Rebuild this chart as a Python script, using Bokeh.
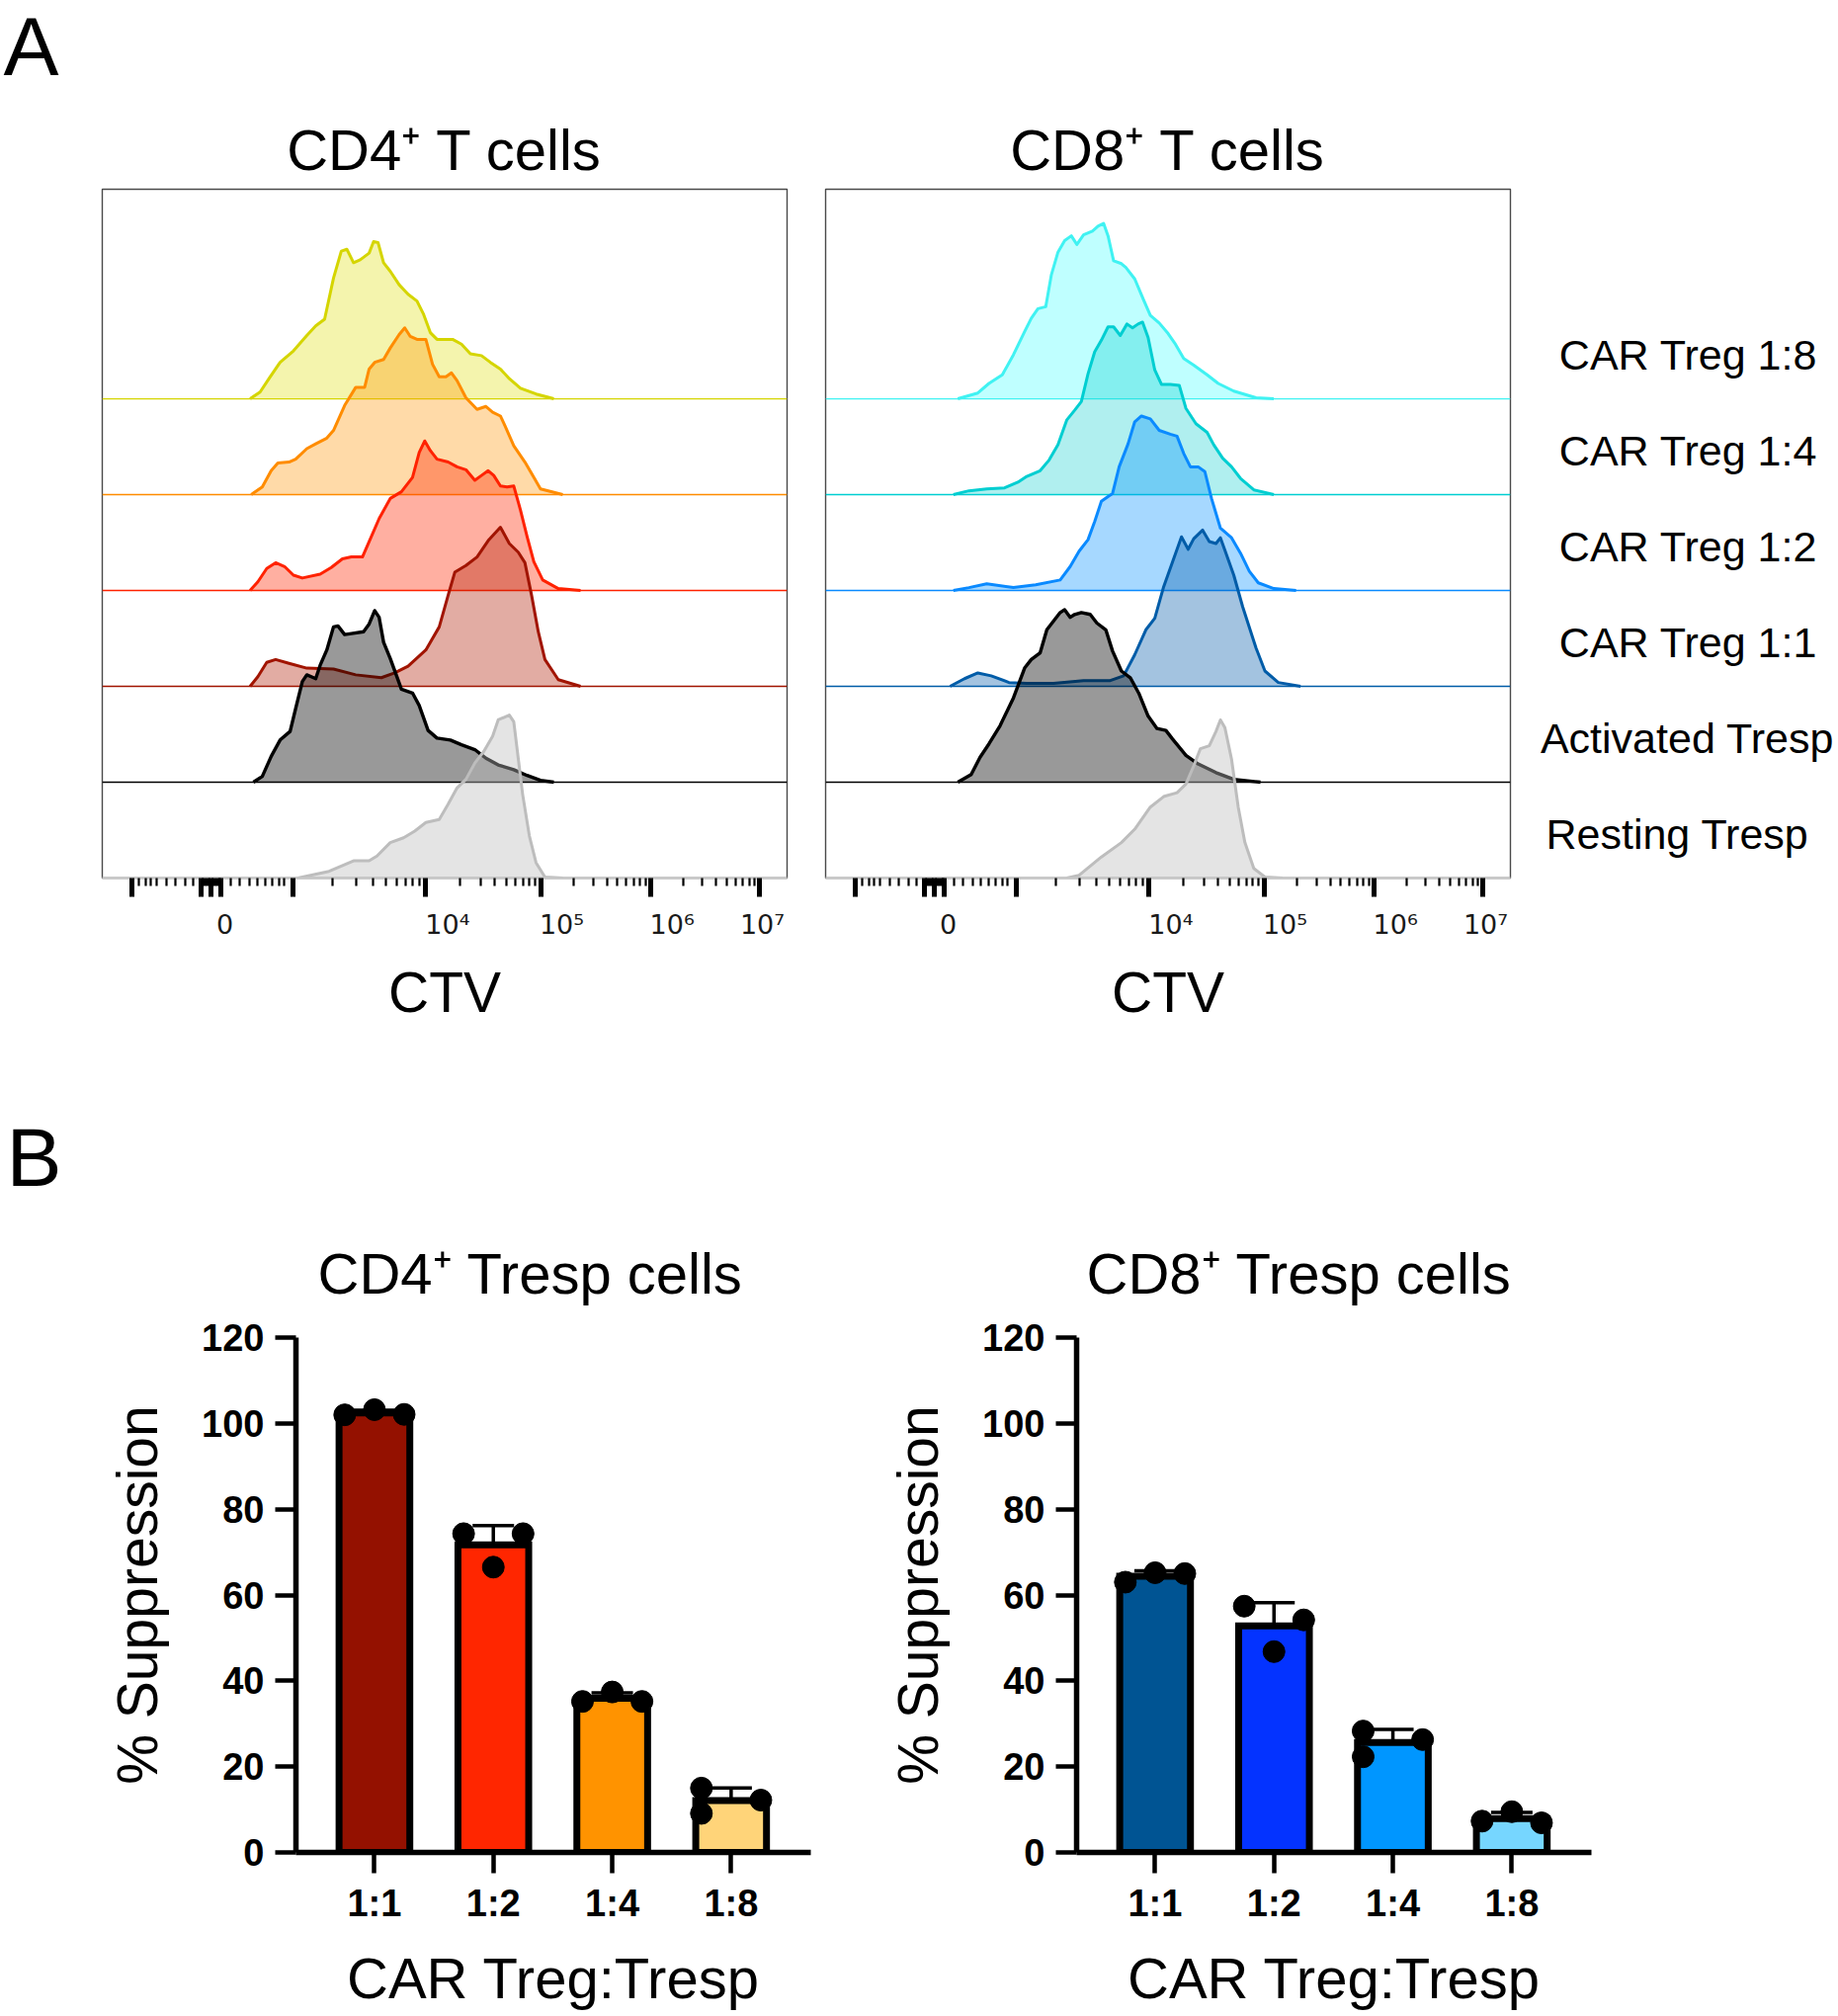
import numpy as np
from bokeh.plotting import figure
from bokeh.models import (Range1d, FixedTicker, LinearAxis,
                          ColumnDataSource, Whisker, TeeHead)
from bokeh.layouts import column, row
from bokeh.embed import file_html
from bokeh.resources import INLINE
from bokeh.core.properties import value

# ======================= DATA =======================
row_labels = ["Resting Tresp", "Activated Tresp", "CAR Treg 1:1",
              "CAR Treg 1:2", "CAR Treg 1:4", "CAR Treg 1:8"]

# CTV axis: positions (display units of the biexponential scale)
ctv_major_pos = [1.358, 2.068, 2.806, 4.0, 5.032, 6.018, 7.0]     # -10^3, 0, 10^3, 10^4 .. 10^7
ctv_zero_major = [1.98, 2.157]
ctv_zero_minor = [1.995, 2.01, 2.025, 2.04, 2.055, 2.085, 2.10, 2.115, 2.13, 2.145]
ctv_neg_minor = [1.42, 1.482, 1.527, 1.58, 1.669, 1.749, 1.838, 1.909]
ctv_lin_minor = [2.246, 2.326, 2.415, 2.486, 2.557, 2.619, 2.681, 2.726]
ctv_tick_labels = ["0", "10⁴", "10⁵", "10⁶", "10⁷"]
ctv_label_pos = [2.193, 4.195, 5.221, 6.213, 7.024]

# --- CD4+ T cells histograms (x: CTV display units, h: height in row units)
cd4_18_x = [2.42, 2.51, 2.59, 2.69, 2.81, 2.93, 3.01, 3.09, 3.17, 3.24, 3.29, 3.35, 3.41, 3.49, 3.53, 3.57, 3.62,
            3.68, 3.76, 3.84, 3.92, 3.98, 4.04, 4.10, 4.24, 4.32, 4.40, 4.50, 4.58, 4.67, 4.75, 4.85, 4.99, 5.15]
cd4_18_h = [0, 0.07, 0.21, 0.38, 0.50, 0.66, 0.76, 0.83, 1.26, 1.54, 1.56, 1.42, 1.45, 1.52, 1.64, 1.63, 1.42,
            1.33, 1.19, 1.09, 1.02, 0.88, 0.69, 0.62, 0.62, 0.57, 0.47, 0.45, 0.38, 0.31, 0.21, 0.11, 0.05, 0]
cd4_14_x = [2.43, 2.53, 2.61, 2.67, 2.77, 2.83, 2.93, 3.01, 3.11, 3.17, 3.27, 3.37, 3.45, 3.49, 3.54, 3.62, 3.68,
            3.76, 3.81, 3.86, 3.92, 4.00, 4.06, 4.12, 4.18, 4.23, 4.28, 4.36, 4.46, 4.54, 4.60, 4.67, 4.71, 4.79,
            4.89, 4.97, 5.03, 5.23]
cd4_14_h = [0, 0.08, 0.25, 0.33, 0.34, 0.37, 0.48, 0.53, 0.59, 0.67, 0.93, 1.12, 1.12, 1.31, 1.38, 1.41, 1.53,
            1.67, 1.74, 1.65, 1.62, 1.62, 1.36, 1.23, 1.23, 1.27, 1.19, 1.01, 0.89, 0.92, 0.86, 0.82, 0.72, 0.51,
            0.34, 0.18, 0.06, 0]
cd4_12_x = [2.42, 2.49, 2.57, 2.65, 2.73, 2.81, 2.89, 3.05, 3.15, 3.25, 3.33, 3.43, 3.49, 3.58, 3.68, 3.78, 3.88,
            3.94, 3.99, 4.04, 4.10, 4.20, 4.28, 4.36, 4.44, 4.50, 4.56, 4.61, 4.67, 4.73, 4.79, 4.85, 4.91, 4.97,
            5.05, 5.19, 5.39]
cd4_12_h = [0, 0.09, 0.23, 0.29, 0.25, 0.16, 0.13, 0.17, 0.24, 0.33, 0.35, 0.35, 0.51, 0.75, 0.96, 1.03, 1.18,
            1.44, 1.56, 1.46, 1.37, 1.34, 1.29, 1.26, 1.15, 1.20, 1.25, 1.20, 1.09, 1.08, 1.09, 0.84, 0.56, 0.30,
            0.11, 0.02, 0]
cd4_11_x = [2.42, 2.49, 2.57, 2.65, 2.77, 2.93, 3.17, 3.37, 3.60, 3.72, 3.84, 4.00, 4.12, 4.20, 4.26, 4.36, 4.46,
            4.56, 4.67, 4.75, 4.83, 4.89, 4.95, 5.01, 5.07, 5.19, 5.39]
cd4_11_h = [0, 0.10, 0.25, 0.28, 0.24, 0.19, 0.18, 0.12, 0.09, 0.14, 0.21, 0.38, 0.62, 0.95, 1.19, 1.26, 1.35,
            1.52, 1.66, 1.49, 1.40, 1.29, 0.95, 0.57, 0.28, 0.07, 0]
cd4_act_x = [2.45, 2.53, 2.61, 2.69, 2.78, 2.83, 2.89, 2.93, 2.97, 3.01, 3.05, 3.11, 3.17, 3.21, 3.27, 3.33, 3.44,
             3.49, 3.54, 3.58, 3.62, 3.68, 3.74, 3.78, 3.88, 3.94, 4.02, 4.10, 4.22, 4.32, 4.44, 4.54, 4.65, 4.79,
             4.91, 5.03, 5.15]
cd4_act_h = [0, 0.06, 0.27, 0.44, 0.53, 0.77, 1.05, 1.12, 1.10, 1.08, 1.22, 1.38, 1.62, 1.63, 1.54, 1.55, 1.57,
             1.65, 1.79, 1.72, 1.46, 1.29, 1.10, 0.97, 0.93, 0.80, 0.54, 0.46, 0.44, 0.39, 0.34, 0.25, 0.18, 0.13,
             0.07, 0.02, 0]
cd4_rest_x = [2.85, 3.13, 3.35, 3.49, 3.56, 3.68, 3.80, 3.90, 4.00, 4.12, 4.20, 4.28, 4.36, 4.44, 4.52, 4.60, 4.65,
              4.75, 4.79, 4.83, 4.87, 4.93, 4.99, 5.07, 5.23]
cd4_rest_h = [0, 0.07, 0.18, 0.18, 0.23, 0.37, 0.42, 0.49, 0.58, 0.61, 0.77, 0.94, 1.03, 1.20, 1.32, 1.48, 1.65,
              1.70, 1.63, 1.25, 0.87, 0.44, 0.16, 0.01, 0]

# --- CD8+ T cells histograms
cd8_18_x = [2.28, 2.46, 2.56, 2.68, 2.78, 2.88, 2.94, 3.00, 3.07, 3.12, 3.18, 3.24, 3.30, 3.35, 3.41, 3.49, 3.54,
            3.59, 3.63, 3.68, 3.75, 3.79, 3.87, 3.95, 4.01, 4.09, 4.17, 4.23, 4.31, 4.40, 4.52, 4.62, 4.76, 4.96,
            5.12]
cd8_18_h = [0, 0.06, 0.16, 0.25, 0.46, 0.70, 0.84, 0.94, 0.96, 1.29, 1.53, 1.65, 1.70, 1.61, 1.71, 1.75, 1.80,
            1.83, 1.70, 1.44, 1.41, 1.37, 1.25, 1.03, 0.87, 0.79, 0.68, 0.58, 0.42, 0.35, 0.25, 0.16, 0.08, 0.01, 0]
cd8_14_x = [2.24, 2.38, 2.54, 2.70, 2.82, 2.90, 3.02, 3.10, 3.18, 3.26, 3.33, 3.39, 3.45, 3.51, 3.57, 3.63, 3.68,
            3.74, 3.80, 3.85, 3.90, 3.94, 3.99, 4.05, 4.11, 4.19, 4.27, 4.33, 4.42, 4.52, 4.58, 4.66, 4.74, 4.82,
            4.94, 5.12]
cd8_14_h = [0, 0.04, 0.06, 0.07, 0.13, 0.19, 0.25, 0.36, 0.52, 0.78, 0.88, 0.97, 1.26, 1.49, 1.61, 1.75, 1.75,
            1.66, 1.78, 1.74, 1.78, 1.80, 1.64, 1.30, 1.15, 1.15, 1.14, 0.90, 0.74, 0.65, 0.52, 0.38, 0.29, 0.17,
            0.05, 0]
cd8_12_x = [2.24, 2.38, 2.54, 2.78, 2.98, 3.20, 3.29, 3.37, 3.45, 3.51, 3.57, 3.63, 3.67, 3.73, 3.81, 3.87, 3.93,
            4.01, 4.09, 4.19, 4.25, 4.31, 4.37, 4.44, 4.50, 4.56, 4.64, 4.74, 4.82, 4.90, 4.98, 5.12, 5.32]
cd8_12_h = [0, 0.03, 0.07, 0.03, 0.06, 0.11, 0.25, 0.41, 0.53, 0.72, 0.93, 0.98, 1.01, 1.29, 1.53, 1.76, 1.82,
            1.79, 1.67, 1.63, 1.61, 1.43, 1.29, 1.29, 1.24, 0.96, 0.65, 0.55, 0.39, 0.20, 0.08, 0.02, 0]
cd8_11_x = [2.21, 2.34, 2.46, 2.58, 2.74, 2.90, 3.14, 3.41, 3.65, 3.77, 3.87, 3.97, 4.05, 4.13, 4.21, 4.29, 4.35,
            4.40, 4.48, 4.54, 4.60, 4.64, 4.68, 4.76, 4.84, 4.96, 5.04, 5.16, 5.36]
cd8_11_h = [0, 0.08, 0.14, 0.11, 0.04, 0.03, 0.03, 0.06, 0.06, 0.11, 0.33, 0.59, 0.71, 1.04, 1.30, 1.56, 1.43,
            1.54, 1.63, 1.51, 1.49, 1.55, 1.42, 1.16, 0.83, 0.40, 0.16, 0.04, 0]
cd8_act_x = [2.28, 2.40, 2.48, 2.56, 2.66, 2.78, 2.88, 2.94, 3.02, 3.08, 3.14, 3.20, 3.24, 3.29, 3.33, 3.39, 3.47,
             3.53, 3.61, 3.67, 3.75, 3.83, 3.91, 3.99, 4.07, 4.15, 4.21, 4.33, 4.44, 4.60, 4.76, 5.00]
cd8_act_h = [0, 0.08, 0.26, 0.40, 0.59, 0.88, 1.19, 1.28, 1.35, 1.59, 1.68, 1.77, 1.80, 1.72, 1.75, 1.77, 1.75,
             1.66, 1.59, 1.37, 1.16, 1.09, 0.92, 0.69, 0.56, 0.54, 0.45, 0.28, 0.19, 0.10, 0.03, 0]
cd8_rest_x = [3.26, 3.37, 3.57, 3.75, 3.87, 4.01, 4.13, 4.25, 4.33, 4.40, 4.46, 4.54, 4.60, 4.64, 4.68, 4.74, 4.80,
              4.86, 4.94, 5.04, 5.20]
cd8_rest_h = [0, 0.03, 0.22, 0.37, 0.51, 0.74, 0.85, 0.89, 0.98, 1.17, 1.35, 1.38, 1.53, 1.65, 1.57, 1.24, 0.74,
              0.37, 0.10, 0.01, 0]

# --- B: % suppression (three replicates per ratio)
ratio_labels = ["1:1", "1:2", "1:4", "1:8"]
cd4_supp = [[102.0, 103.2, 102.1], [74.3, 66.5, 74.3], [35.2, 37.4, 35.2], [15.0, 9.1, 12.2]]
cd8_supp = [[63.0, 65.2, 65.0], [57.4, 46.8, 54.2], [28.3, 22.3, 26.3], [7.3, 9.5, 6.9]]
cd4_dot_side = [[-1, 0, 1], [-1, 0, 1], [-1, 0, 1], [-1, -1, 1]]
cd8_dot_side = [[-1, 0, 1], [-1, 0, 1], [-1, -1, 1], [-1, 0, 1]]
suppression_ticks = [0, 20, 40, 60, 80, 100, 120]

# ======================= STYLE / LAYOUT =======================
FONT = "Liberation Sans"
X0, X1 = 1.092, 7.246
YTOP = 7.186
TOTAL_W = 1858
LET_A_H, LET_B_H = 100, 140
H1, H2 = 980, 818
HIST_TOP, HIST_FRAME_H = 91, 697
BAR_TOP, BAR_FRAME_H = 133, 521
A1_W, A2_W = 813, 717
LAB_W = TOTAL_W - A1_W - A2_W
LABEL_CX = [167, 177, 178, 178, 178, 178]

cd4_line = ["#BDBDBD", "#000000", "#A11400", "#FF2200", "#FF8C00", "#D5D500"]
cd4_fill = ["#BBBBBB", "#000000", "#B01800", "#FF2600", "#FF9300", "#DCDC00"]
cd4_alpha = [0.40, 0.40, 0.36, 0.37, 0.34, 0.32]
cd8_line = ["#BDBDBD", "#000000", "#005CA8", "#0A8AFF", "#00CED1", "#40F2F2"]
cd8_fill = ["#BBBBBB", "#000000", "#0058A8", "#0090FF", "#00CCCC", "#00FFFF"]
cd8_alpha = [0.40, 0.40, 0.36, 0.35, 0.31, 0.25]
cd4_bar_colors = ["#941100", "#FF2600", "#FF9300", "#FFD479"]
cd8_bar_colors = ["#005493", "#0433FF", "#0096FF", "#76D6FF"]


def decade_minors(start, end):
    return [start + np.log10(m) * (end - start) for m in range(2, 10)]


minor_ticks = (ctv_zero_minor + ctv_neg_minor + ctv_lin_minor
               + decade_minors(2.806, 4.0) + decade_minors(4.0, 5.032)
               + decade_minors(5.032, 6.018) + decade_minors(6.018, 7.0))
major_ticks = sorted(ctv_major_pos + ctv_zero_major)


def blank_fig(width, height, x_range, y_range, top=0, bottom=0):
    p = figure(width=width, height=height, x_range=x_range, y_range=y_range,
               output_backend="svg", toolbar_location=None,
               x_axis_location=None, y_axis_location=None,
               min_border_left=0, min_border_right=0, min_border_top=top, min_border_bottom=bottom)
    p.grid.visible = False
    p.outline_line_color = None
    return p


def letter_fig(letter, height, lx, ly_mid):
    # ly_mid: distance of the letter's centre from the top of the strip
    p = blank_fig(TOTAL_W, height, Range1d(0, TOTAL_W), Range1d(0, height))
    p.text(x=[lx], y=[height - ly_mid], text=[letter], text_font=value(FONT), text_font_size="84px",
           text_color="black", text_align="left", text_baseline="middle")
    return p


def style_title(p, align, standoff, offset=0):
    p.title.align = align
    p.title.offset = offset
    p.title.text_font = FONT
    p.title.text_font_size = "58px"
    p.title.text_font_style = "normal"
    p.title.text_color = "black"
    p.title.standoff = standoff


def hist_fig(title, curves, lines, fills, alphas, width, mbl, mbr):
    p = figure(width=width, height=H1, x_range=Range1d(X0, X1), y_range=Range1d(0, YTOP),
               output_backend="svg", toolbar_location=None, y_axis_location=None,
               min_border_left=mbl, min_border_right=mbr, min_border_top=HIST_TOP,
               min_border_bottom=H1 - HIST_TOP - HIST_FRAME_H)
    p.grid.visible = False
    p.outline_line_color = "#4a4a4a"
    p.outline_line_width = 1.4
    p.title.text = title
    style_title(p, "center", 16)

    for k in reversed(range(len(curves))):
        xs, hs = curves[k]
        xs = np.asarray(xs, dtype=float)
        ys = k + np.asarray(hs, dtype=float)
        p.varea(x=xs, y1=np.full(len(xs), float(k)), y2=ys,
                fill_color=fills[k], fill_alpha=alphas[k])
        p.segment(x0=[X0], x1=[X1], y0=[k], y1=[k], line_color=lines[k], line_width=1.3)
        p.line(xs, ys, line_color=lines[k], line_width=3.4 if k == 1 else 3.0, line_join="round")

    ax1 = p.xaxis[0]
    ax1.ticker = FixedTicker(ticks=major_ticks, minor_ticks=minor_ticks)
    ax1.major_tick_out = 19
    ax1.major_tick_in = 0
    ax1.major_tick_line_width = 5
    ax1.major_tick_line_color = "black"
    ax1.minor_tick_out = 8
    ax1.minor_tick_in = 0
    ax1.minor_tick_line_width = 2.2
    ax1.minor_tick_line_color = "black"
    ax1.axis_line_color = "#c8c8c8"
    ax1.axis_line_width = 2
    ax1.major_label_overrides = {t: "" for t in major_ticks}
    ax1.major_label_text_font_size = "0px"
    ax1.major_label_standoff = 0

    ax2 = LinearAxis(ticker=FixedTicker(ticks=ctv_label_pos, minor_ticks=[]),
                     major_label_overrides=dict(zip(ctv_label_pos, ctv_tick_labels)))
    ax2.major_tick_out = 0
    ax2.major_tick_in = 0
    ax2.minor_tick_out = 0
    ax2.minor_tick_in = 0
    ax2.axis_line_color = None
    ax2.major_label_standoff = 12
    ax2.major_label_text_font = "DejaVu Sans"
    ax2.major_label_text_font_size = "27px"
    ax2.major_label_text_color = "#1a1a1a"
    ax2.axis_label = "CTV"
    ax2.axis_label_text_font = FONT
    ax2.axis_label_text_font_size = "57px"
    ax2.axis_label_text_font_style = "normal"
    ax2.axis_label_text_color = "black"
    ax2.axis_label_standoff = 18
    p.add_layout(ax2, "below")
    return p


cd4_curves = [(cd4_rest_x, cd4_rest_h), (cd4_act_x, cd4_act_h), (cd4_11_x, cd4_11_h),
              (cd4_12_x, cd4_12_h), (cd4_14_x, cd4_14_h), (cd4_18_x, cd4_18_h)]
cd8_curves = [(cd8_rest_x, cd8_rest_h), (cd8_act_x, cd8_act_h), (cd8_11_x, cd8_11_h),
              (cd8_12_x, cd8_12_h), (cd8_14_x, cd8_14_h), (cd8_18_x, cd8_18_h)]

a1 = hist_fig("CD4⁺ T cells", cd4_curves, cd4_line, cd4_fill, cd4_alpha, A1_W, 103, 17)
a2 = hist_fig("CD8⁺ T cells", cd8_curves, cd8_line, cd8_fill, cd8_alpha, A2_W, 22, 2)

# row labels: a strip sharing the CD8 panel's y scale
labs = blank_fig(LAB_W, H1, Range1d(0, LAB_W), a2.y_range,
                 top=HIST_TOP, bottom=H1 - HIST_TOP - HIST_FRAME_H)
row_pos = [k + 0.46 for k in range(len(row_labels))]
labs.text(x=LABEL_CX, y=row_pos, text=row_labels,
          text_font=value(FONT), text_font_size="43px", text_color="black",
          text_align="center", text_baseline="middle")


def bar_fig(title, vals, sides, colors, width, mbl, mbr, title_offset):
    p = figure(width=width, height=H2, x_range=Range1d(0.34, 4.67), y_range=Range1d(0, 120),
               output_backend="svg", toolbar_location=None,
               min_border_left=mbl, min_border_right=mbr, min_border_top=BAR_TOP,
               min_border_bottom=H2 - BAR_TOP - BAR_FRAME_H)
    p.grid.visible = False
    p.outline_line_color = None
    p.title.text = title
    style_title(p, "left", 66, title_offset)

    xs = np.arange(1, len(vals) + 1)
    means = [float(np.mean(v)) for v in vals]
    sds = [float(np.std(v, ddof=1)) for v in vals]
    p.vbar(x=xs, top=means, bottom=0, width=0.595, fill_color=colors,
           line_color="black", line_width=7, line_join="miter")
    src = ColumnDataSource(dict(x=xs, lo=[m - s for m, s in zip(means, sds)],
                                hi=[m + s for m, s in zip(means, sds)]))
    p.add_layout(Whisker(base="x", lower="lo", upper="hi", source=src,
                         line_color="black", line_width=3.5,
                         upper_head=TeeHead(size=42, line_width=3.5, line_color="black"),
                         lower_head=TeeHead(size=42, line_width=3.5, line_color="black")))
    dx = [i + 1 + s * 0.25 for i, ss in enumerate(sides) for s in ss]
    dy = [v for vv in vals for v in vv]
    p.scatter(dx, dy, size=22, fill_color="black", line_color="black")

    yax = p.yaxis[0]
    yax.ticker = FixedTicker(ticks=suppression_ticks, minor_ticks=[])
    xax = p.xaxis[0]
    xax.ticker = FixedTicker(ticks=list(xs), minor_ticks=[])
    xax.major_label_overrides = {int(i): lab for i, lab in zip(xs, ratio_labels)}
    for ax in (xax, yax):
        ax.major_tick_out = 21
        ax.major_tick_in = 0
        ax.minor_tick_out = 0
        ax.minor_tick_in = 0
        ax.major_tick_line_width = 4.5
        ax.major_tick_line_color = "black"
        ax.axis_line_width = 5.5
        ax.axis_line_color = "black"
        ax.major_label_text_font = FONT
        ax.major_label_text_font_style = "bold"
        ax.major_label_text_font_size = "38px"
        ax.major_label_text_color = "black"
        ax.axis_label_text_font = FONT
        ax.axis_label_text_font_style = "normal"
        ax.axis_label_text_color = "black"
    yax.major_label_standoff = 11
    yax.axis_label = "% Suppression"
    yax.axis_label_text_font_size = "57px"
    yax.axis_label_standoff = 30
    xax.major_label_standoff = 9
    xax.axis_label = "CAR Treg:Tresp"
    xax.axis_label_text_font_size = "58px"
    xax.axis_label_standoff = 19
    return p


b1 = bar_fig("CD4⁺ Tresp cells", cd4_supp, cd4_dot_side, cd4_bar_colors, 850, 299, 30, 22)
b2 = bar_fig("CD8⁺ Tresp cells", cd8_supp, cd8_dot_side, cd8_bar_colors, 1008, 239, 248, 10)

let_a = letter_fig("A", LET_A_H, 3, 46)
let_b = letter_fig("B", LET_B_H, 6, 90)

layout = column(let_a, row(a1, a2, labs), let_b, row(b1, b2))
open("out.html", "w").write(file_html(layout, INLINE))
